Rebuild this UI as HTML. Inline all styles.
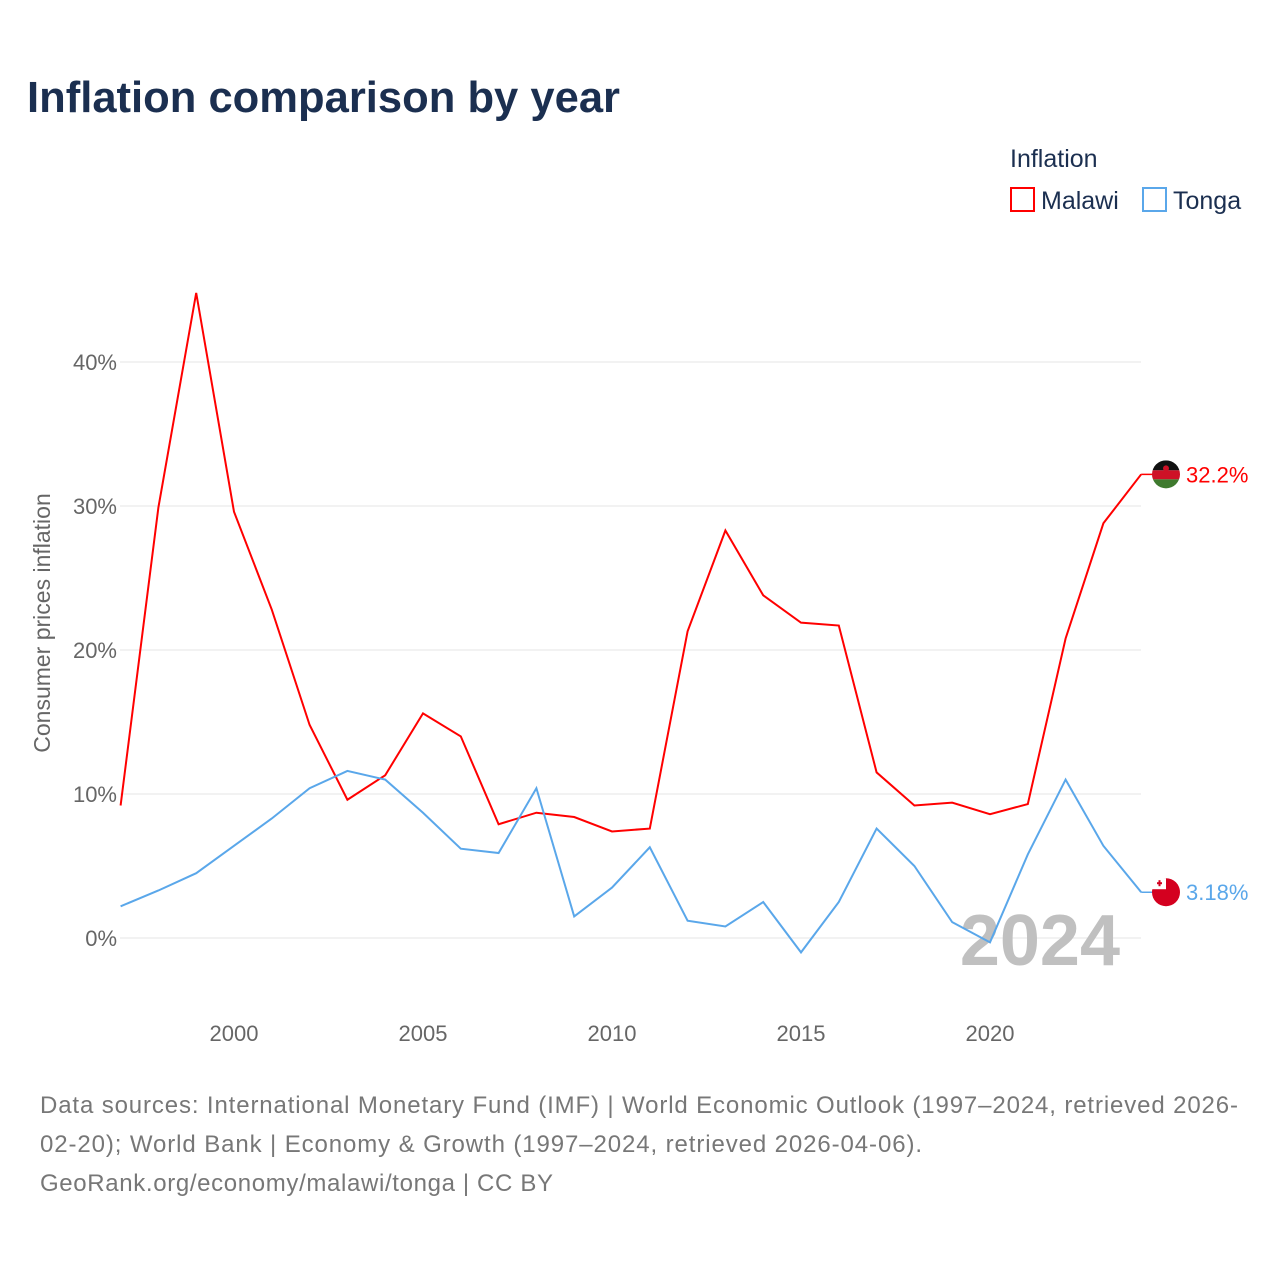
<!DOCTYPE html>
<html><head><meta charset="utf-8"><style>
body{margin:0;background:#fff;font-family:"Liberation Sans",sans-serif}
svg text{font-family:"Liberation Sans",sans-serif}
</style></head><body>
<svg width="1280" height="1280" xmlns="http://www.w3.org/2000/svg">
<rect width="1280" height="1280" fill="#fff"/>
<text x="27" y="112" font-size="44" font-weight="bold" fill="#1b2f50" textLength="593" lengthAdjust="spacingAndGlyphs">Inflation comparison by year</text>
<text x="1010" y="167" font-size="25" fill="#1b2f50">Inflation</text>
<g><rect x="1011" y="188" width="23" height="23" fill="none" stroke="#f00" stroke-width="2"/><text x="1041" y="209" font-size="25" fill="#1b2f50">Malawi</text></g>
<g><rect x="1143" y="188" width="23" height="23" fill="none" stroke="#5aa7ea" stroke-width="2"/><text x="1173" y="209" font-size="25" fill="#1b2f50">Tonga</text></g>
<text transform="translate(50,623) rotate(-90)" text-anchor="middle" font-size="23" fill="#666">Consumer prices inflation</text>
<g id="grid"></g><g id="xt"></g>
<text x="1120" y="965" text-anchor="end" font-size="72" font-weight="bold" fill="#c0c0c0">2024</text>
<g id="lines"></g>
<text x="40" y="1113" font-size="24" fill="#777" textLength="1198" lengthAdjust="spacing">Data sources: International Monetary Fund (IMF) | World Economic Outlook (1997–2024, retrieved 2026-</text>
<text x="40" y="1152" font-size="24" fill="#777" textLength="882" lengthAdjust="spacing">02-20); World Bank | Economy &amp; Growth (1997–2024, retrieved 2026-04-06).</text>
<text x="40" y="1191" font-size="24" fill="#777" textLength="513" lengthAdjust="spacing">GeoRank.org/economy/malawi/tonga | CC BY</text>
</svg>
<script>
const years=[1997,1998,1999,2000,2001,2002,2003,2004,2005,2006,2007,2008,2009,2010,2011,2012,2013,2014,2015,2016,2017,2018,2019,2020,2021,2022,2023,2024];
const malawi=[9.2,29.9,44.8,29.6,22.8,14.8,9.6,11.3,15.6,14.0,7.9,8.7,8.4,7.4,7.6,21.3,28.3,23.8,21.9,21.7,11.5,9.2,9.4,8.6,9.3,20.8,28.8,32.2];
const tonga=[2.2,3.3,4.5,6.4,8.3,10.4,11.6,11.0,8.7,6.2,5.9,10.4,1.5,3.5,6.3,1.2,0.8,2.5,-1.0,2.5,7.6,5.0,1.1,-0.3,5.8,11.0,6.4,3.18];
const yTicks=[0,10,20,30,40];
const xTicks=[2000,2005,2010,2015,2020];
const NS="http://www.w3.org/2000/svg";
const X=v=>120.6+(v-1997)*37.8, Y=v=>938-v*14.4;
function mk(t,a,p){const e=document.createElementNS(NS,t);for(const k in a)e.setAttribute(k,a[k]);p.appendChild(e);return e;}
const g=document.getElementById('grid');
yTicks.forEach(v=>{const l=mk('line',{x1:120,x2:1141,y1:Y(v),y2:Y(v),stroke:'#e6e6e6'},g);


const t=mk('text',{x:117,y:Y(v)+8,'text-anchor':'end','font-size':22,fill:'#666'},g);t.textContent=v+'%';

});
const xt=document.getElementById('xt');
xTicks.forEach(v=>{const t=mk('text',{x:X(v),y:1041,'text-anchor':'middle','font-size':22,fill:'#666'},xt);t.textContent=v;

});
const L=document.getElementById('lines');
function series(d,c,name,label,flag){
 const pts=d.map((v,i)=>X(years[i])+','+Y(v)).join(' ');
 const p=mk('polyline',{points:pts,fill:'none',stroke:c,'stroke-width':2},L);
 
 
 const ly=Y(d[d.length-1]);
 mk('line',{x1:X(2024),x2:1166,y1:ly,y2:ly,stroke:c,'stroke-width':1.5},L);
 const f=mk('g',{},L);
 
 
 flag(f,1166,ly);
 const t=mk('text',{x:1186,y:ly+8,'font-size':22,fill:c},L);t.textContent=label;
 
 
}
series(malawi,'#f00','malawi','32.2%',(f,x,y)=>{
 mk('clipPath',{id:'cm'},f);mk('circle',{cx:x,cy:y,r:14},f.lastChild);
 const c=mk('g',{'clip-path':'url(#cm)'},f);
 mk('rect',{x:x-14,y:y-14,width:28,height:10,fill:'#111'},c);
 mk('rect',{x:x-14,y:y-4,width:28,height:9,fill:'#ce1126'},c);
 mk('rect',{x:x-14,y:y+5,width:28,height:10,fill:'#3e7a2e'},c);
 mk('circle',{cx:x,cy:y-6,r:3,fill:'#ce1126'},c);});
series(tonga,'#5aa7ea','tonga','3.18%',(f,x,y)=>{
 mk('circle',{cx:x,cy:y,r:14,fill:'#d4001f'},f);
 mk('rect',{x:x-14,y:y-14,width:14,height:11,fill:'#fff'},f);
 mk('rect',{x:x-9,y:y-10,width:5,height:2,fill:'#d4001f'},f);
 mk('rect',{x:x-7.5,y:y-12,width:2,height:6,fill:'#d4001f'},f);});
</script>
</body></html>
